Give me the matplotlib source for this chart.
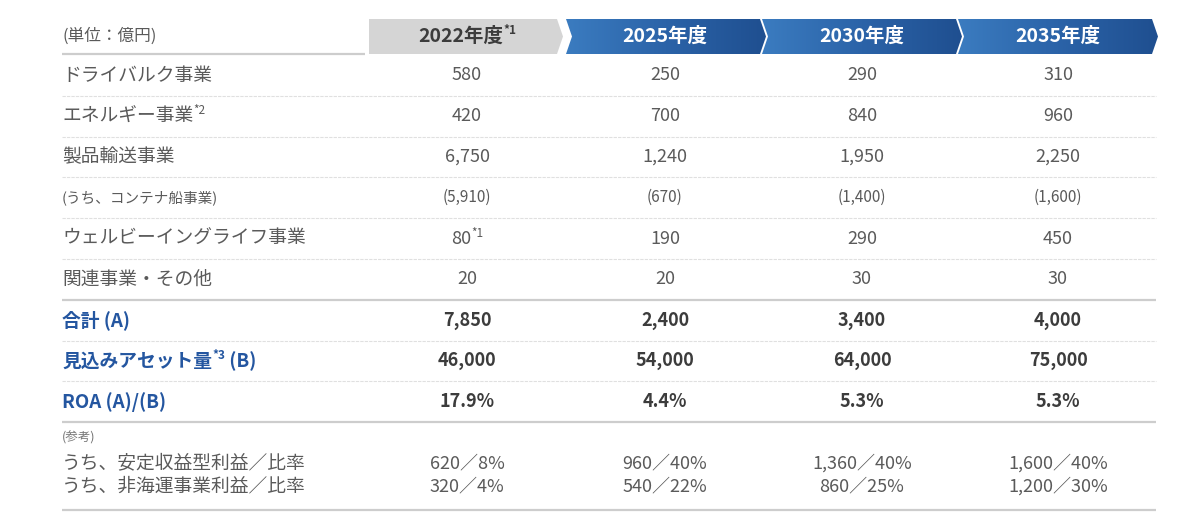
import numpy as np
import matplotlib
matplotlib.use('Agg')
import matplotlib.pyplot as plt
from matplotlib.patches import Polygon
from matplotlib.colors import LinearSegmentedColormap

plt.rcParams['font.family'] = ['Noto Sans CJK JP', 'DejaVu Sans']

# data
unit_label = '(単位：億円)'
years = ['2022年度', '2025年度', '2030年度', '2035年度']
year_sups = ['*1', '', '', '']

row_labels = ['ドライバルク事業', 'エネルギー事業', '製品輸送事業', '(うち、コンテナ船事業)',
              'ウェルビーイングライフ事業', '関連事業・その他', '合計 (A)',
              '見込みアセット量', 'ROA (A)/(B)']
row_label_sups = ['', '*2', '', '', '', '', '', '*3', '']
row_label_tails = ['', '', '', '', '', '', '', ' (B)', '']
row_kind = ['n', 'n', 'n', 's', 'n', 'n', 'b', 'b', 'b']

col_2022 = ['580', '420', '6,750', '(5,910)', '80', '20', '7,850', '46,000', '17.9%']
col_2025 = ['250', '700', '1,240', '(670)', '190', '20', '2,400', '54,000', '4.4%']
col_2030 = ['290', '840', '1,950', '(1,400)', '290', '30', '3,400', '64,000', '5.3%']
col_2035 = ['310', '960', '2,250', '(1,600)', '450', '30', '4,000', '75,000', '5.3%']
value_sups_2022 = ['', '', '', '', '*1', '', '', '', '']

ref_title = '(参考)'
ref_labels = ['うち、安定収益型利益／比率', 'うち、非海運事業利益／比率']
ref_2022 = ['620／8%', '320／4%']
ref_2025 = ['960／40%', '540／22%']
ref_2030 = ['1,360／40%', '860／25%']
ref_2035 = ['1,600／40%', '1,200／30%']

columns = [col_2022, col_2025, col_2030, col_2035]
ref_columns = [ref_2022, ref_2025, ref_2030, ref_2035]

# figure in pixel coordinates
fig = plt.figure(figsize=(12, 5.13), dpi=100)
ax = fig.add_axes([0, 0, 1, 1])
ax.set_xlim(0, 1200)
ax.set_ylim(513, 0)
ax.axis('off')
renderer = fig.canvas.get_renderer()

GRAY_TXT = '#5a5a5a'
DARK_TXT = '#3c3c3c'
BLUE_TXT = '#2456a0'


def width_of(t):
    bb = t.get_window_extent(renderer=renderer)
    return bb.width


def draw(x, y, main, sup='', tail='', ha='left', size=12.5, sup_size=8,
         color=GRAY_TXT, weight='normal'):
    # main text + optional superscript + optional tail, laid out side by side
    parts = [ax.text(0, y, main, fontsize=size, color=color, fontweight=weight,
                     va='center', ha='left')]
    if sup:
        parts.append(ax.text(0, y - size * 0.42, sup, fontsize=sup_size,
                             color=color, fontweight=weight, va='center',
                             ha='left'))
    if tail:
        parts.append(ax.text(0, y, tail, fontsize=size, color=color,
                             fontweight=weight, va='center', ha='left'))
    widths = [width_of(p) for p in parts]
    total = sum(widths)
    start = x - total / 2 if ha == 'center' else x
    for p, w in zip(parts, widths):
        p.set_x(start)
        start += w


# header
top, bot = 19, 54
mid = (top + bot) / 2
d = 6
col_centers = [467, 665, 862, 1058]
col_left = [369, 566, 762, 958]
col_right = [563, 766, 962, 1158]

gray = Polygon([(col_left[0], top), (col_right[0] - d, top), (col_right[0], mid),
                (col_right[0] - d, bot), (col_left[0], bot)],
               closed=True, facecolor='#d5d5d5', edgecolor='none')
ax.add_patch(gray)

cmap = LinearSegmentedColormap.from_list('chev', ['#3b7cc0', '#2b63a8', '#1f4f90'])
grad = np.linspace(0, 1, 256).reshape(1, -1)
for i in range(1, 4):
    x0, x1 = col_left[i], col_right[i]
    poly = Polygon([(x0, top), (x1 - d, top), (x1, mid), (x1 - d, bot),
                    (x0, bot), (x0 + d, mid)],
                   closed=True, facecolor='none', edgecolor='none')
    ax.add_patch(poly)
    im = ax.imshow(grad, cmap=cmap, aspect='auto', extent=[x0, x1, bot, top],
                   interpolation='bilinear', zorder=1)
    im.set_clip_path(poly)

ax.set_xlim(0, 1200)
ax.set_ylim(513, 0)

for i, yr in enumerate(years):
    c = DARK_TXT if i == 0 else 'white'
    draw(col_centers[i], mid, yr, sup=year_sups[i], ha='center', size=14,
         sup_size=8.5, color=c, weight='bold')

draw(62, mid, unit_label, size=12, color=GRAY_TXT)
ax.plot([62, 365], [54, 54], color='#cdcdcd', lw=1.6, solid_capstyle='butt')

# rows
row_top = 55
pitch = 40.8
x_l, x_r = 62, 1156
for r, lab in enumerate(row_labels):
    yc = row_top + pitch * (r + 0.5)
    kind = row_kind[r]
    if kind == 'b':
        draw(x_l, yc, lab, sup=row_label_sups[r], tail=row_label_tails[r],
             size=13.5, sup_size=8.5, color=BLUE_TXT, weight='bold')
    elif kind == 's':
        draw(x_l, yc, lab, size=10.5, color=GRAY_TXT)
    else:
        draw(x_l, yc, lab, sup=row_label_sups[r], size=13.5, sup_size=8.5,
             color=GRAY_TXT)
    for ci, col in enumerate(columns):
        sup = value_sups_2022[r] if ci == 0 else ''
        if kind == 'b':
            draw(col_centers[ci], yc, col[r], ha='center', size=13,
                 color=DARK_TXT, weight='bold')
        elif kind == 's':
            draw(col_centers[ci], yc, col[r], ha='center', size=11,
                 color=GRAY_TXT)
        else:
            draw(col_centers[ci], yc, col[r], sup=sup, ha='center', size=13,
                 sup_size=8.5, color=GRAY_TXT)
    yl = row_top + pitch * (r + 1)
    if r in (5, 8):
        ax.plot([x_l, x_r], [yl, yl], color='#cdcdcd', lw=1.6,
                solid_capstyle='butt')
    else:
        ax.plot([x_l, x_r], [yl, yl], color='#e0e0e0', lw=0.8,
                ls=(0, (3, 1)), solid_capstyle='butt')

# reference block
draw(x_l, 438, ref_title, size=9, color='#777777')
ref_y = [463, 486]
for k, lab in enumerate(ref_labels):
    draw(x_l, ref_y[k], lab, size=13.5, color=GRAY_TXT)
    for ci, col in enumerate(ref_columns):
        draw(col_centers[ci], ref_y[k], col[k], ha='center', size=13,
             color=GRAY_TXT)
ax.plot([x_l, x_r], [510, 510], color='#cdcdcd', lw=1.6, solid_capstyle='butt')

fig.savefig('out.png', dpi=100, facecolor='white')
